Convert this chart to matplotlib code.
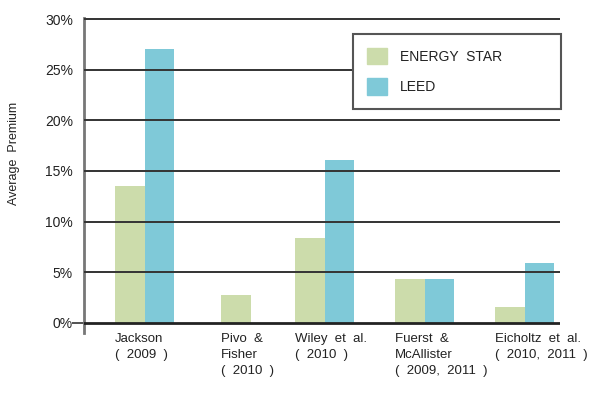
import matplotlib.pyplot as plt

plt.rcParams['font.family'] = ['Liberation Sans', 'DejaVu Sans']

# datos
studies = ['Jackson\n(  2009  )', 'Pivo  &\nFisher\n(  2010  )', 'Wiley  et  al.\n(  2010  )',
           'Fuerst  &\nMcAllister\n(  2009,  2011  )', 'Eicholtz  et  al.\n(  2010,  2011  )']
energy_star = [13.5, 2.8, 8.4, 4.3, 1.6]
leed = [27.0, None, 16.1, 4.3, 5.9]

# posicion de cada grupo (izquierda de la barra verde), en unidades de 100 px
group_left = [0.31, 1.37, 2.11, 3.11, 4.11]
w = 0.295

green = '#CCDCAB'
blue = '#7FC9D8'
txt = '#222222'

fig = plt.figure(figsize=(6, 4.13), dpi=100)
ax = fig.add_axes([84 / 600, 1 - 333 / 413, 476 / 600, 315 / 413])

for i in range(len(studies)):
    ax.bar(group_left[i], energy_star[i], width=w, align='edge', color=green, zorder=2)
    if leed[i] is not None:
        ax.bar(group_left[i] + w, leed[i], width=w, align='edge', color=blue, zorder=2)

# lineas horizontales
for v in range(5, 31, 5):
    ax.axhline(v, xmin=0.003, xmax=1, color='#333333', lw=1.4, zorder=3)
ax.axhline(0, color='#222222', lw=2, zorder=3)

ax.set_xlim(0, 4.76)
ax.set_ylim(-1.0, 30.1)

ax.set_yticks(range(0, 31, 5))
ax.set_yticklabels([f'{v}%' for v in range(0, 31, 5)], fontsize=10, color=txt)
ax.tick_params(axis='y', length=9, width=1.2, color='#333333', pad=-1)
for t in ax.yaxis.get_major_ticks()[1:]:
    t.tick1line.set_visible(False)
ax.set_xticks([])

for s in ['top', 'right', 'bottom']:
    ax.spines[s].set_visible(False)
ax.spines['left'].set_color('#777777')
ax.spines['left'].set_linewidth(2)

for i, lab in enumerate(studies):
    ax.text(group_left[i], -1.0, lab, ha='left', va='top', fontsize=9.5, color=txt,
            linespacing=1.45, transform=ax.transData)

fig.text(14 / 600, 1 - 153 / 413, 'Average  Premium', rotation=90, ha='center', va='center',
         fontsize=9, color=txt)

h1 = plt.Rectangle((0, 0), 1, 1, color=green)
h2 = plt.Rectangle((0, 0), 1, 1, color=blue)
leg = ax.legend([h1, h2], ['ENERGY  STAR', 'LEED'], loc='upper left',
                bbox_to_anchor=(0.565, 0.949, 0.437, 0.0), mode='expand',
                fontsize=10, handlelength=1.45, handleheight=1.45, handletextpad=0.94,
                labelspacing=1.0, borderpad=1.0, borderaxespad=0, fancybox=False,
                framealpha=1, edgecolor='#555555', labelcolor=txt)
leg.get_frame().set_linewidth(1.5)
leg.set_zorder(5)

plt.savefig('out.png')
plt.close()
